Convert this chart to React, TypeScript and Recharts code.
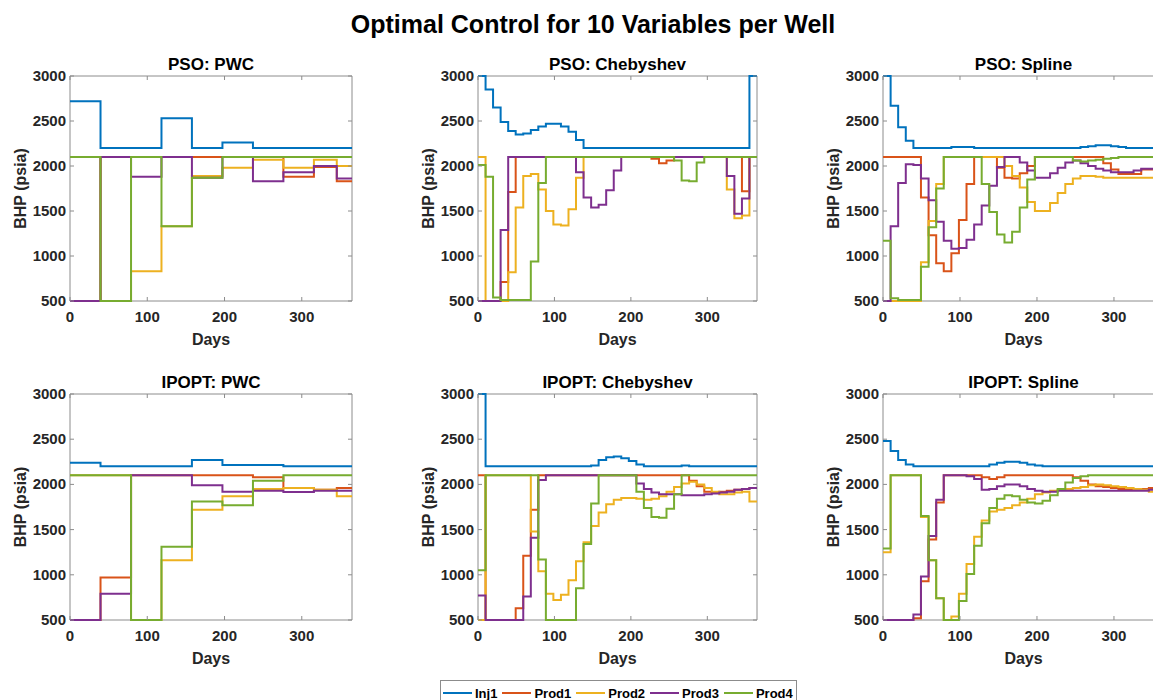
import { Line, LineChart, ReferenceArea, XAxis, YAxis } from 'recharts';

const FONT = '"Liberation Sans", Arial, Helvetica, sans-serif';
const AXIS = '#8c8c8c';
const INK = '#262626';

const WELLS = ['Inj1', 'Prod1', 'Prod2', 'Prod3', 'Prod4'];
const WELL_COLORS = ['#0072BD', '#D95319', '#EDB120', '#7E2F8E', '#77AC30'];

const DAY_TICKS = [0, 100, 200, 300];
const BHP_TICKS = [500, 1000, 1500, 2000, 2500, 3000];

// control switching times (days); last entry closes the final step
const PWC_DAYS = [0, 39.5, 79, 118.4, 157.8, 197.3, 236.8, 276.2, 315.7, 345.3, 365];
const STEP_DAYS = [
  0, 9.9, 19.7, 29.6, 39.5, 49.3, 59.2, 69.1, 78.9, 88.8, 98.6, 108.5, 118.4, 128.2, 138.1, 148, 157.8,
  167.7, 177.6, 187.4, 197.3, 207.2, 217, 226.9, 236.8, 246.6, 256.5, 266.4, 276.2, 286.1, 296, 305.8,
  315.7, 325.5, 335.4, 345.3, 355.1, 365,
];

type Well = 'Inj1' | 'Prod1' | 'Prod2' | 'Prod3' | 'Prod4';
type Controls = Record<Well, number[]>;

const PSO_PWC: Controls = {
  Inj1: [2720, 2200, 2200, 2530, 2200, 2260, 2200, 2200, 2200, 2200],
  Prod1: [500, 2100, 2100, 2100, 2100, 2100, 2100, 1880, 1990, 1830],
  Prod2: [2100, 500, 830, 1330, 1890, 1980, 2070, 1980, 2070, 2000],
  Prod3: [500, 2100, 1880, 2100, 1870, 2100, 1830, 1930, 2000, 1860],
  Prod4: [2100, 500, 2100, 1330, 1870, 2100, 2100, 2100, 2100, 2100],
};

const IPOPT_PWC: Controls = {
  Inj1: [2240, 2200, 2200, 2200, 2270, 2215, 2215, 2200, 2200, 2200],
  Prod1: [500, 970, 2100, 2100, 2100, 2100, 2080, 1960, 1940, 1960],
  Prod2: [2100, 2100, 500, 1160, 1720, 1870, 1950, 1960, 1940, 1870],
  Prod3: [500, 790, 2100, 2100, 1990, 1920, 1930, 1915, 1930, 1930],
  Prod4: [2100, 2100, 500, 1310, 1810, 1770, 2040, 2100, 2100, 2100],
};

const PSO_CHEB: Controls = {
  Inj1: [
    3000, 2850, 2650, 2490, 2390, 2350, 2360, 2400, 2440, 2470, 2470, 2440, 2380, 2290, 2200, 2200, 2200,
    2200, 2200, 2200, 2200, 2200, 2200, 2200, 2200, 2200, 2200, 2200, 2200, 2200, 2200, 2200, 2200, 2200,
    2200, 2200, 3000,
  ],
  Prod1: [
    500, 500, 500, 710, 1710, 2100, 2100, 2100, 2100, 2100, 2100, 2100, 2100, 2100, 2100, 2100, 2100, 2100,
    2100, 2100, 2100, 2100, 2100, 2080, 2030, 2060, 2100, 2100, 2100, 2100, 2100, 2100, 2100, 2100, 2100,
    1720, 2100,
  ],
  Prod2: [
    2100, 500, 500, 500, 820, 1540, 1890, 1910, 1740, 1500, 1350, 1340, 1520, 1870, 2100, 2100, 2100, 2100,
    2100, 2100, 2100, 2100, 2100, 2100, 2100, 2100, 2100, 2100, 2100, 2100, 2100, 2100, 2100, 1740, 1420,
    1450, 2100,
  ],
  Prod3: [
    500, 500, 500, 1290, 2100, 2100, 2100, 2100, 2100, 2100, 2100, 2100, 2100, 1930, 1650, 1540, 1570, 1730,
    1950, 2100, 2100, 2100, 2100, 2100, 2100, 2100, 2100, 2100, 2100, 2100, 2100, 2100, 2100, 1890, 1470,
    1640, 2100,
  ],
  Prod4: [
    2010, 1880, 540, 510, 510, 510, 510, 940, 1810, 2100, 2100, 2100, 2100, 2100, 2100, 2100, 2100, 2100,
    2100, 2100, 2100, 2100, 2100, 2100, 2100, 2100, 2060, 1840, 1830, 2040, 2100, 2100, 2100, 2100, 2100,
    2100, 2100,
  ],
};

const IPOPT_CHEB: Controls = {
  Inj1: [
    3000, 2200, 2200, 2200, 2200, 2200, 2200, 2200, 2200, 2200, 2200, 2200, 2200, 2200, 2200, 2210, 2270,
    2300, 2310, 2290, 2260, 2220, 2200, 2200, 2200, 2200, 2200, 2210, 2200, 2200, 2200, 2200, 2200, 2200,
    2200, 2200, 2200,
  ],
  Prod1: [
    2100, 500, 500, 500, 500, 630, 1210, 1720, 2100, 2100, 2100, 2100, 2100, 2100, 2100, 2100, 2100, 2100,
    2100, 2100, 2100, 2100, 2100, 2100, 2100, 2100, 2100, 2100, 2040, 1980, 1920, 1910, 1920, 1930, 1940,
    1950, 1960,
  ],
  Prod2: [
    500, 2100, 2100, 2100, 2100, 2100, 2100, 1480, 1040, 790, 720, 780, 940, 1150, 1360, 1540, 1690, 1780,
    1830, 1850, 1850, 1840, 1830, 1840, 1870, 1920, 1970, 2010, 2030, 2000, 1960, 1920, 1890, 1890, 1910,
    1920, 1810,
  ],
  Prod3: [
    770, 500, 500, 500, 500, 500, 760, 1410, 2050, 2100, 2100, 2100, 2100, 2100, 2100, 2100, 2100, 2100,
    2100, 2100, 2100, 2010, 1950, 1910, 1890, 1890, 1890, 1880, 1880, 1880, 1890, 1900, 1910, 1920, 1940,
    1950, 1960,
  ],
  Prod4: [
    1050, 2100, 2100, 2100, 2100, 2100, 2100, 2100, 1170, 500, 500, 500, 500, 850, 1340, 1790, 2100, 2100,
    2100, 2100, 2100, 1920, 1740, 1640, 1630, 1730, 1890, 2100, 2100, 2100, 2100, 2100, 2100, 2100, 2100,
    2100, 2100,
  ],
};

const PSO_SPLINE: Controls = {
  Inj1: [
    3000, 2670, 2430, 2280, 2200, 2200, 2200, 2200, 2200, 2210, 2210, 2210, 2200, 2200, 2200, 2200, 2200,
    2200, 2200, 2200, 2200, 2200, 2200, 2200, 2200, 2200, 2210, 2220, 2230, 2230, 2220, 2210, 2200, 2200,
    2200, 2200, 2200,
  ],
  Prod1: [
    2100, 2100, 2100, 2100, 2100, 1650, 1230, 920, 830, 1030, 1400, 1800, 2100, 2100, 2100, 1980, 1870, 1860,
    1920, 2000, 2100, 2100, 2100, 2100, 2100, 2100, 2100, 2100, 2100, 2030, 1960, 1910, 1910, 1910, 1960,
    1960, 1960,
  ],
  Prod2: [
    500, 500, 500, 500, 500, 930, 1390, 1800, 2100, 2100, 2100, 2100, 2100, 2100, 2100, 2100, 2000, 1890,
    1760, 1600, 1500, 1500, 1590, 1700, 1800, 1860, 1890, 1890, 1880, 1870, 1870, 1870, 1870, 1870, 1870,
    1870, 1870,
  ],
  Prod3: [
    500, 1330, 1810, 2020, 2010, 1860, 1620, 1380, 1170, 1080, 1090, 1180, 1350, 1560, 1780, 1990, 2100,
    2100, 2040, 1950, 1870, 1870, 1920, 1980, 2040, 2060, 2030, 2000, 1970, 1950, 1930, 1930, 1930, 1950,
    1970, 1970, 1970,
  ],
  Prod4: [
    1170, 530, 510, 510, 510, 880, 1320, 1750, 2100, 2100, 2100, 2100, 2100, 1800, 1490, 1240, 1150, 1270,
    1540, 1850, 2100, 2100, 2100, 2100, 2100, 2060, 2050, 2060, 2070, 2080, 2090, 2100, 2100, 2100, 2100,
    2100, 2100,
  ],
};

const IPOPT_SPLINE: Controls = {
  Inj1: [
    2480, 2370, 2270, 2220, 2200, 2200, 2200, 2200, 2200, 2200, 2200, 2200, 2200, 2200, 2220, 2240, 2250,
    2250, 2240, 2220, 2210, 2200, 2200, 2200, 2200, 2200, 2200, 2200, 2200, 2200, 2200, 2200, 2200, 2200,
    2200, 2200, 2200,
  ],
  Prod1: [
    500, 500, 500, 500, 520, 930, 1390, 1800, 2100, 2100, 2100, 2100, 2100, 2080, 2060, 2080, 2100, 2100,
    2100, 2100, 2100, 2100, 2100, 2100, 2100, 2080, 2040, 2000, 1980, 1970, 1960, 1950, 1950, 1940, 1950,
    1960, 1960,
  ],
  Prod2: [
    1250, 2100, 2100, 2100, 2100, 1640, 1160, 740, 500, 540, 790, 1120, 1420, 1600, 1700, 1720, 1740, 1770,
    1800, 1840, 1890, 1910, 1930, 1940, 1950, 1960, 1970, 1990, 2000, 1990, 1980, 1970, 1960, 1950, 1940,
    1920, 1900,
  ],
  Prod3: [
    500, 500, 500, 500, 560, 980, 1430, 1830, 2100, 2100, 2100, 2090, 2060, 1940, 1950, 1980, 2000, 2000,
    1980, 1950, 1930, 1920, 1920, 1930, 1930, 1930, 1930, 1930, 1930, 1930, 1930, 1930, 1930, 1930, 1930,
    1940, 1950,
  ],
  Prod4: [
    1290, 2100, 2100, 2100, 2100, 1650, 1160, 740, 500, 500, 710, 1010, 1320, 1570, 1740, 1840, 1880, 1870,
    1830, 1800, 1790, 1820, 1880, 1950, 2020, 2070, 2090, 2100, 2100, 2100, 2100, 2100, 2100, 2100, 2100,
    2100, 2100,
  ],
};

// stepAfter rows: one per switching time, the closing row repeats the last control
function buildRows(days: number[], controls: Controls) {
  return days.map((day, i) => {
    const row: Record<string, number> = { day };
    WELLS.forEach((w) => {
      const v = controls[w as Well];
      row[w] = v[Math.min(i, v.length - 1)];
    });
    return row;
  });
}

const Y_AXIS_W = 65;
const X_AXIS_H = 50;
const PAD = 10;

function XTick({ x, y, payload, plotH }: any) {
  return (
    <g>
      <line x1={x} x2={x} y1={y - 4} y2={y - 8} stroke={AXIS} />
      <line x1={x} x2={x} y1={y - 4 - plotH} y2={y - plotH} stroke={AXIS} />
      <text x={x} y={y + 17} textAnchor="middle" fontFamily={FONT} fontSize={15} fontWeight="bold" fill={INK}>
        {payload.value}
      </text>
    </g>
  );
}

function YTick({ x, y, payload, plotW }: any) {
  return (
    <g>
      <line x1={x + 4} x2={x + 8} y1={y} y2={y} stroke={AXIS} />
      <line x1={x + 4 + plotW} x2={x + plotW} y1={y} y2={y} stroke={AXIS} />
      <text x={x} y={y + 5} textAnchor="end" fontFamily={FONT} fontSize={15} fontWeight="bold" fill={INK}>
        {payload.value}
      </text>
    </g>
  );
}

interface PanelProps {
  title: string;
  left: number;
  top: number;
  plotW: number;
  plotH: number;
  days: number[];
  controls: Controls;
}

function Panel({ title, left, top, plotW, plotH, days, controls }: PanelProps) {
  const rows = buildRows(days, controls);
  return (
    <>
      <div style={{ position: 'absolute', left: left - Y_AXIS_W, top: top - PAD }}>
        <LineChart
          width={Y_AXIS_W + plotW + PAD}
          height={PAD + plotH + X_AXIS_H}
          data={rows}
          margin={{ top: PAD, right: PAD, left: 0, bottom: 0 }}
        >
          <ReferenceArea x1={0} x2={365} y1={500} y2={3000} fill="none" stroke={AXIS} strokeWidth={1} />
          <XAxis
            dataKey="day"
            type="number"
            domain={[0, 365]}
            ticks={DAY_TICKS}
            interval={0}
            height={X_AXIS_H}
            axisLine={false}
            tickLine={false}
            tickSize={0}
            tickMargin={4}
            tick={<XTick plotH={plotH} />}
          />
          <YAxis
            type="number"
            domain={[500, 3000]}
            ticks={BHP_TICKS}
            interval={0}
            width={Y_AXIS_W}
            axisLine={false}
            tickLine={false}
            tickSize={0}
            tickMargin={4}
            tick={<YTick plotW={plotW} />}
          />
          {WELLS.map((w, i) => (
            <Line
              key={w}
              type="stepAfter"
              dataKey={w}
              stroke={WELL_COLORS[i]}
              strokeWidth={2}
              dot={false}
              activeDot={false}
              isAnimationActive={false}
            />
          ))}
        </LineChart>
      </div>
      <svg
        width={1153}
        height={700}
        style={{ position: 'absolute', left: 0, top: 0, pointerEvents: 'none', overflow: 'visible' }}
      >
        <g fontFamily={FONT} fontWeight="bold" fill={INK}>
          <text x={left + plotW / 2} y={top - 6} textAnchor="middle" fontSize={17} fill="#000">
            {title}
          </text>
          <text x={left + plotW / 2} y={top + plotH + 44} textAnchor="middle" fontSize={16}>
            Days
          </text>
          <text
            transform={`translate(${left - 44}, ${top + plotH / 2}) rotate(-90)`}
            textAnchor="middle"
            fontSize={16}
          >
            BHP (psia)
          </text>
        </g>
      </svg>
    </>
  );
}

const COLS = [
  { left: 70, plotW: 282 },
  { left: 478, plotW: 279 },
  { left: 883, plotW: 281 },
];
const ROWS = [
  { top: 76, plotH: 225 },
  { top: 394, plotH: 226 },
];

export default function App() {
  return (
    <div
      style={{
        position: 'absolute',
        left: 0,
        top: 0,
        width: 1153,
        height: 700,
        overflow: 'hidden',
        background: '#fff',
        fontFamily: FONT,
      }}
    >
      <svg width={1153} height={50} style={{ position: 'absolute', left: 0, top: 0 }}>
        <text x={593} y={33} textAnchor="middle" fontFamily={FONT} fontSize={25} fontWeight="bold" fill="#000">
          Optimal Control for 10 Variables per Well
        </text>
      </svg>

      <Panel title="PSO: PWC" {...COLS[0]} {...ROWS[0]} days={PWC_DAYS} controls={PSO_PWC} />
      <Panel title="PSO: Chebyshev" {...COLS[1]} {...ROWS[0]} days={STEP_DAYS} controls={PSO_CHEB} />
      <Panel title="PSO: Spline" {...COLS[2]} {...ROWS[0]} days={STEP_DAYS} controls={PSO_SPLINE} />
      <Panel title="IPOPT: PWC" {...COLS[0]} {...ROWS[1]} days={PWC_DAYS} controls={IPOPT_PWC} />
      <Panel title="IPOPT: Chebyshev" {...COLS[1]} {...ROWS[1]} days={STEP_DAYS} controls={IPOPT_CHEB} />
      <Panel title="IPOPT: Spline" {...COLS[2]} {...ROWS[1]} days={STEP_DAYS} controls={IPOPT_SPLINE} />

      <div
        style={{
          position: 'absolute',
          left: 440,
          top: 680,
          width: 357,
          height: 40,
          boxSizing: 'border-box',
          border: `1px solid ${AXIS}`,
          background: '#fff',
          display: 'flex',
          paddingLeft: 2,
          paddingTop: 4,
          fontSize: 13,
          fontWeight: 'bold',
          color: '#000',
        }}
      >
        {WELLS.map((w, i) => (
          <div key={w} style={{ display: 'flex', alignItems: 'center', height: 16, marginRight: 5 }}>
            <span style={{ display: 'inline-block', width: 29, height: 2, background: WELL_COLORS[i], marginRight: 3 }} />
            <span>{w}</span>
          </div>
        ))}
      </div>
    </div>
  );
}
